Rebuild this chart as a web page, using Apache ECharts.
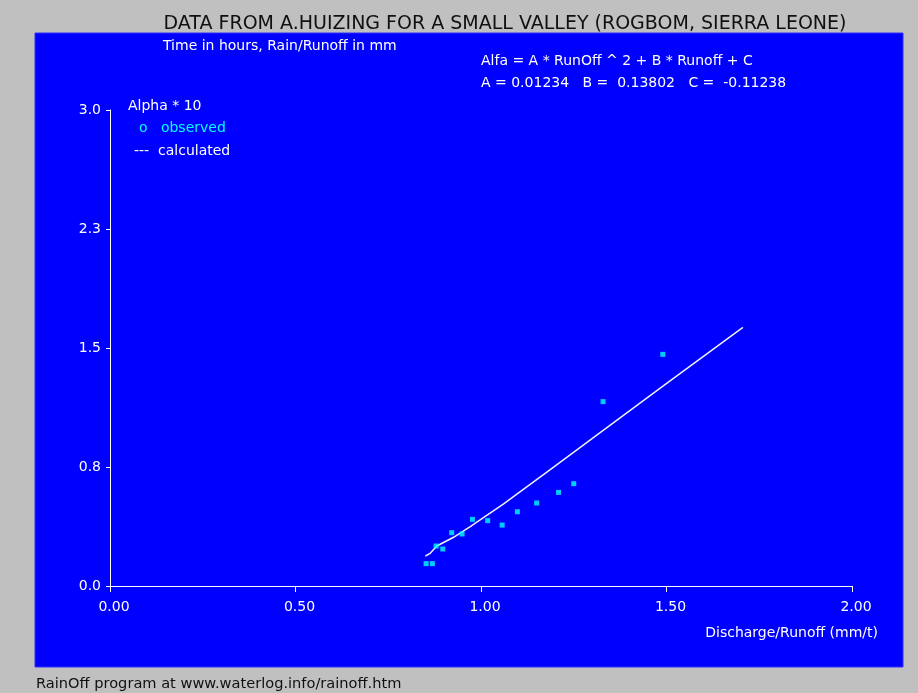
<!DOCTYPE html>
<html>
<head>
<meta charset="utf-8">
<script src="https://cdn.jsdelivr.net/npm/echarts@6/dist/echarts.min.js"></script>
<style>
html,body{margin:0;padding:0;background:#c0c0c0;}
#chart{width:918px;height:693px;}
</style>
</head>
<body>
<div id="chart"></div>
<script>
// Observed points (Discharge/Runoff, Alpha*10)
const obsX = [0.852, 0.869, 0.879, 0.897, 0.921, 0.949, 0.977, 1.018, 1.057, 1.098, 1.150, 1.209, 1.250, 1.329, 1.490];
const obsY = [0.141, 0.141, 0.252, 0.233, 0.336, 0.328, 0.420, 0.412, 0.384, 0.468, 0.523, 0.590, 0.645, 1.162, 1.460];
// Calculated curve
const calcX = [0.850, 0.863, 0.881, 0.926, 0.971, 1.061, 1.182, 1.483, 1.706];
const calcY = [0.189, 0.206, 0.252, 0.307, 0.374, 0.517, 0.725, 1.247, 1.630];
// Axis ticks
const xMin = 0, xMax = 2, xStep = 0.5;
const yMin = 0, yMax = 3, yStep = 0.75;

const titleText = 'DATA FROM A.HUIZING FOR A SMALL VALLEY (ROGBOM, SIERRA LEONE)';
const subText = 'Time in hours, Rain/Runoff in mm';
const formula1 = 'Alfa = A * RunOff ^ 2 + B * Runoff + C';
const formula2 = 'A = 0.01234   B =  0.13802   C =  -0.11238';
const legendTitle = 'Alpha * 10';
const legendObs = 'o   observed';
const legendCalc = '---  calculated';
const xName = 'Discharge/Runoff (mm/t)';
const footer = 'RainOff program at www.waterlog.info/rainoff.htm';

const FONT = '"DejaVu Sans", "Liberation Sans", Arial, sans-serif';
const chart = echarts.init(document.getElementById('chart'));

function txt(x, y, text, color, size, align) {
  return {
    type: 'text', x: x, y: y, z: 10,
    style: { text: text, fill: color, font: size + 'px ' + FONT, textAlign: align || 'left', textVerticalAlign: 'middle' }
  };
}

chart.setOption({
  backgroundColor: '#c0c0c0',
  animation: false,
  grid: { left: 110, right: 66, top: 110, bottom: 107, containLabel: false },
  xAxis: {
    type: 'value', min: xMin, max: xMax, interval: xStep,
    axisLine: { lineStyle: { color: '#ffffff', width: 1 } },
    axisTick: { show: true, length: 6, lineStyle: { color: '#ffffff' } },
    splitLine: { show: false },
    axisLabel: { color: '#ffffff', fontSize: 14, fontFamily: FONT, margin: 14, padding: [0, 0, 0, 8],
      formatter: v => v.toFixed(2) }
  },
  yAxis: {
    type: 'value', min: yMin, max: yMax, interval: yStep,
    axisLine: { show: true, lineStyle: { color: '#ffffff', width: 1 } },
    axisTick: { show: true, length: 4, lineStyle: { color: '#ffffff' } },
    splitLine: { show: false },
    axisLabel: { color: '#ffffff', fontSize: 14, fontFamily: FONT, margin: 9,
      formatter: v => v.toFixed(1) }
  },
  series: [
    {
      type: 'line', name: 'calculated', data: calcX.map((x, i) => [x, calcY[i]]),
      showSymbol: false, symbol: 'none', lineStyle: { color: '#f0f0ff', width: 1.5 }, z: 2
    },
    {
      type: 'scatter', name: 'observed', data: obsX.map((x, i) => [x, obsY[i]]),
      symbol: 'rect', symbolSize: 5, itemStyle: { color: '#00ffff' }, z: 3
    }
  ],
  graphic: [
    { type: 'rect', z: -10, shape: { x: 35, y: 33, width: 868, height: 634 },
      style: { fill: '#0000ff', stroke: '#3030ff', lineWidth: 1 } },
    txt(505, 24, titleText, '#101010', 19, 'center'),
    txt(163, 46, subText, '#ffffff', 14),
    txt(481, 61.5, formula1, '#ffffff', 14),
    txt(481, 83, formula2, '#ffffff', 14),
    txt(128, 106, legendTitle, '#ffffff', 14),
    txt(139, 128.5, legendObs, '#00ffff', 14),
    txt(134, 151, legendCalc, '#ffffff', 14),
    txt(878, 633, xName, '#ffffff', 14, 'right'),
    txt(36, 684, footer, '#101010', 14.6)
  ]
});
</script>
</body>
</html>
